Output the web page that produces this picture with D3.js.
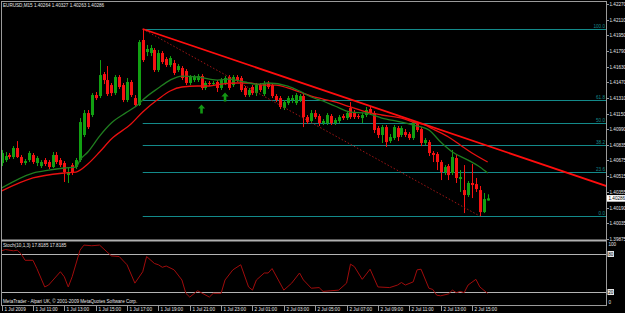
<!DOCTYPE html>
<html>
<head>
<meta charset="utf-8">
<script src="https://cdn.jsdelivr.net/npm/d3@7"></script>
<style>
html, body { margin: 0; padding: 0; background: #000; overflow: hidden; }
svg { display: block; }
text { font-family: "Liberation Sans", Arial, sans-serif; font-size: 4.6px; fill: #e6e6e6; }
</style>
</head>
<body>
<div id="chart"></div>
<script>
// EURUSD M15, 1 Jul 2009 09:00 -> 2 Jul 2009 16:00 (125 bars)
const barStart = new Date(2009, 6, 1, 9, 0);

const opens = [
  1.40647,1.40677,1.40729,1.40708,1.40800,1.40708,1.40647,1.40677,1.40729,1.40647,
  1.40616,1.40677,1.40657,1.40606,1.40729,1.40677,1.40647,1.40524,1.40626,1.40606,
  1.40677,1.40933,1.41157,1.41137,1.41341,1.41331,1.41555,1.41494,1.41443,1.41361,
  1.41525,1.41443,1.41290,1.41474,1.41310,1.41239,1.41903,1.41780,1.41770,1.41801,
  1.41596,1.41770,1.41709,1.41647,1.41668,1.41596,1.41617,1.41586,1.41464,1.41494,
  1.41494,1.41535,1.41413,1.41464,1.41453,1.41474,1.41413,1.41464,1.41525,1.41443,
  1.41525,1.41515,1.41413,1.41341,1.41423,1.41361,1.41443,1.41351,1.41464,1.41443,
  1.41331,1.41310,1.41208,1.41259,1.41290,1.41259,1.41290,1.41331,1.41116,1.41076,
  1.41157,1.41127,1.41055,1.41055,1.41127,1.41055,1.41076,1.41127,1.41106,1.41208,
  1.41168,1.41127,1.41106,1.41137,1.41198,1.41157,1.41004,1.40933,1.41014,1.40871,
  1.40902,1.41004,1.40933,1.40963,1.40943,1.40902,1.41045,1.40994,1.40851,1.40861,
  1.40749,1.40739,1.40657,1.40555,1.40616,1.40545,1.40698,1.40484,1.40371,1.40320,
  1.40443,1.40432,1.40371,1.40146,1.40264
];
const highs = [
  1.40780,1.40759,1.40749,1.40820,1.40871,1.40729,1.40688,1.40769,1.40749,1.40718,
  1.40677,1.40698,1.40677,1.40759,1.40759,1.40698,1.40667,1.40596,1.40647,1.40698,
  1.41106,1.41188,1.41188,1.41361,1.41372,1.41698,1.41576,1.41637,1.41464,1.41545,
  1.41545,1.41464,1.41515,1.41494,1.41341,1.41903,1.42015,1.41852,1.41852,1.41821,
  1.41801,1.41790,1.41729,1.41739,1.41698,1.41658,1.41637,1.41606,1.41545,1.41545,
  1.41555,1.41555,1.41484,1.41484,1.41484,1.41494,1.41515,1.41535,1.41545,1.41545,
  1.41545,1.41535,1.41433,1.41413,1.41443,1.41464,1.41464,1.41484,1.41484,1.41464,
  1.41351,1.41331,1.41290,1.41331,1.41341,1.41361,1.41351,1.41351,1.41137,1.41188,
  1.41188,1.41147,1.41096,1.41157,1.41147,1.41106,1.41137,1.41147,1.41178,1.41269,
  1.41188,1.41147,1.41157,1.41219,1.41229,1.41178,1.41025,1.41035,1.41035,1.40943,
  1.41035,1.41025,1.41025,1.40994,1.40963,1.41086,1.41065,1.41014,1.40902,1.40882,
  1.40769,1.40759,1.40677,1.40626,1.40637,1.40780,1.40729,1.40575,1.40626,1.40463,
  1.40637,1.40494,1.40412,1.40341,1.40327
];
const lows = [
  1.40616,1.40657,1.40688,1.40688,1.40698,1.40626,1.40626,1.40657,1.40637,1.40616,
  1.40596,1.40616,1.40586,1.40596,1.40637,1.40606,1.40453,1.40443,1.40524,1.40586,
  1.40657,1.40912,1.40994,1.41116,1.41290,1.41310,1.41453,1.41331,1.41331,1.41341,
  1.41402,1.41269,1.41269,1.41321,1.41219,1.41229,1.41678,1.41739,1.41739,1.41576,
  1.41576,1.41658,1.41627,1.41627,1.41545,1.41576,1.41494,1.41443,1.41443,1.41474,
  1.41474,1.41392,1.41392,1.41433,1.41433,1.41372,1.41392,1.41443,1.41392,1.41423,
  1.41474,1.41372,1.41321,1.41321,1.41341,1.41331,1.41372,1.41331,1.41402,1.41310,
  1.41269,1.41198,1.41188,1.41239,1.41259,1.41239,1.41269,1.41014,1.41045,1.41055,
  1.41096,1.41025,1.41035,1.41035,1.41035,1.41035,1.41055,1.41086,1.41086,1.41096,
  1.41096,1.41096,1.41055,1.41116,1.41137,1.40953,1.40902,1.40851,1.40810,1.40851,
  1.40882,1.40871,1.40912,1.40912,1.40882,1.40882,1.40963,1.40820,1.40831,1.40718,
  1.40657,1.40575,1.40473,1.40524,1.40473,1.40524,1.40443,1.40351,1.40136,1.40300,
  1.40289,1.40351,1.40105,1.40136,1.40263
];
const closes = [
  1.40749,1.40718,1.40708,1.40800,1.40708,1.40647,1.40667,1.40749,1.40657,1.40698,
  1.40657,1.40637,1.40606,1.40729,1.40657,1.40626,1.40555,1.40555,1.40545,1.40677,
  1.41065,1.41157,1.41014,1.41341,1.41310,1.41545,1.41494,1.41351,1.41361,1.41525,
  1.41423,1.41290,1.41474,1.41341,1.41239,1.41882,1.41698,1.41811,1.41821,1.41596,
  1.41770,1.41678,1.41647,1.41719,1.41566,1.41637,1.41515,1.41464,1.41525,1.41525,
  1.41535,1.41413,1.41464,1.41453,1.41464,1.41413,1.41494,1.41515,1.41413,1.41525,
  1.41494,1.41392,1.41341,1.41392,1.41361,1.41443,1.41392,1.41464,1.41423,1.41331,
  1.41290,1.41219,1.41269,1.41310,1.41310,1.41341,1.41331,1.41116,1.41065,1.41157,
  1.41116,1.41055,1.41076,1.41137,1.41055,1.41086,1.41116,1.41106,1.41157,1.41116,
  1.41116,1.41116,1.41137,1.41188,1.41157,1.40984,1.40933,1.41014,1.40861,1.40912,
  1.41014,1.40912,1.41004,1.40933,1.40902,1.41065,1.40984,1.40851,1.40882,1.40749,
  1.40729,1.40657,1.40555,1.40606,1.40524,1.40708,1.40494,1.40504,1.40320,1.40443,
  1.40422,1.40381,1.40146,1.40279,1.40286
];

// moving averages: [bar index, price]
const maFast = [
  [0,1.40392],[8,1.40545],[12,1.40575],[16,1.40596],[19,1.40606],[20,1.40677],[22,1.40759],
  [25,1.40922],[28,1.41055],[32,1.41167],[35,1.41249],[36,1.41290],[40,1.41413],[43,1.41494],
  [46,1.41535],[50,1.41525],[55,1.41494],[58,1.41504],[62,1.41474],[65,1.41453],[68,1.41464],
  [73,1.41433],[76,1.41382],[79,1.41321],[82,1.41280],[85,1.41229],[89,1.41167],[93,1.41157],
  [97,1.41106],[102,1.41065],[105,1.41035],[109,1.40984],[112,1.40861],[115,1.40759],
  [119,1.40677],[122,1.40606],[124,1.40545]
];
const maSlow = [
  [0,1.40361],[8,1.40494],[16,1.40545],[19,1.40555],[22,1.40637],[25,1.40759],[28,1.40892],
  [33,1.41045],[36,1.41168],[40,1.41300],[43,1.41382],[46,1.41423],[50,1.41433],[53,1.41433],
  [56,1.41453],[60,1.41464],[63,1.41464],[67,1.41443],[70,1.41443],[73,1.41413],[76,1.41372],
  [79,1.41331],[82,1.41300],[85,1.41270],[89,1.41219],[93,1.41168],[97,1.41137],[102,1.41106],
  [105,1.41065],[108,1.41035],[110,1.40994],[114,1.40913],[117,1.40831],[120,1.40749],[124,1.40657]
];

// Stochastic(10,1,3): [bar index, value]
const stoch = [
  [0,85],[1,87],[3,85],[4,86],[5,80],[6,70],[8,70],[9,57],[11,28],[12,31],[15,52],[16,44],
  [17,28],[18,44],[20,86],[21,94],[23,93],[25,94],[28,77],[30,76],[32,63],[34,34],[36,52],
  [37,76],[39,65],[40,63],[41,59],[42,61],[44,55],[46,39],[47,18],[48,12],[50,22],[53,12],
  [54,18],[56,18],[57,39],[59,55],[61,63],[63,28],[64,23],[65,39],[67,50],[68,50],[69,57],
  [72,23],[74,34],[76,50],[77,39],[79,26],[81,27],[82,21],[84,22],[86,23],[88,34],[89,64],
  [90,60],[92,40],[94,56],[96,28],[99,27],[101,31],[102,35],[103,31],[105,36],[106,55],
  [107,56],[109,26],[110,24],[111,15],[112,14],[114,17],[115,23],[116,19],[117,21],[118,19],
  [119,31],[121,40],[122,28],[124,17.8185]
];

// objects on the chart
const fibHigh = [36, 1.42015];
const fibLow = [122, 1.40105];
const fibLevels = [0, 23.6, 38.2, 50, 61.8, 100];
const trendPts = [[36, 1.42015], [143, 1.40565]];
const arrowPts = [[51, 1.41198], [57, 1.41321]];

// axis labels
const priceLabels = ["1.42270","1.42110","1.41950","1.41790","1.41630","1.41470","1.41310","1.41150",
  "1.40990","1.40835","1.40675","1.40515","1.40355","1.40190","1.40035","1.39875"];
const timeLabels = ["1 Jul 2009","1 Jul 11:00","1 Jul 13:00","1 Jul 15:00","1 Jul 17:00","1 Jul 19:00",
  "1 Jul 21:00","1 Jul 23:00","2 Jul 01:00","2 Jul 03:00","2 Jul 05:00","2 Jul 07:00","2 Jul 09:00",
  "2 Jul 11:00","2 Jul 13:00","2 Jul 15:00"];
const stochLabels = [100, 80, 20, 0];
const lastPrice = 1.40286;

const W = 625, H = 313;
const upColor = "#12a012", downColor = "#f51212";
const fibColor = "#138a8a", gridColor = "#9a9a9a";

function barTime(i) { return d3.timeMinute.offset(barStart, 15 * i); }

const x = d3.scaleTime().domain([barTime(0), barTime(120)]).range([1.6, 472]);
const y = d3.scaleLinear().domain([1.39861, 1.42301]).range([240, 1]);
const yS = d3.scaleLinear().domain([0, 100]).range([304.7, 241.3]);

const svg = d3.select("#chart").append("svg")
  .attr("width", W).attr("height", H)
  .style("background", "#000");

const defs = svg.append("defs");
defs.append("clipPath").attr("id", "mainClip").append("rect")
  .attr("x", 2).attr("y", 2).attr("width", 604.5).attr("height", 237);
defs.append("clipPath").attr("id", "stochClip").append("rect")
  .attr("x", 2).attr("y", 242).attr("width", 604.5).attr("height", 63);

const bars = opens.map((o, i) => ({ t: barTime(i), o: o, h: highs[i], l: lows[i], c: closes[i] }));
const bx = d => Math.round(x(d.t));

const main = svg.append("g").attr("clip-path", "url(#mainClip)");

// FIBONACCI LEVELS
const fx = x(barTime(fibHigh[0]));
fibLevels.forEach(lv => {
  const p = fibLow[1] + (fibHigh[1] - fibLow[1]) * lv / 100;
  const yy = Math.round(y(p)) + 0.5;
  main.append("line")
    .attr("x1", fx).attr("x2", 606).attr("y1", yy).attr("y2", yy)
    .attr("stroke", fibColor).attr("stroke-width", 1);
  main.append("text")
    .attr("x", 605).attr("y", yy - 1.2)
    .attr("text-anchor", "end")
    .style("fill", fibColor)
    .text(lv.toFixed(1));
});

// CANDLES
main.selectAll("line.wick").data(bars).join("line")
  .attr("class", "wick")
  .attr("x1", d => bx(d) + 0.5).attr("x2", d => bx(d) + 0.5)
  .attr("y1", d => y(d.h)).attr("y2", d => y(d.l))
  .attr("stroke", d => d.c >= d.o ? upColor : downColor)
  .attr("stroke-width", 1);
main.selectAll("rect.body").data(bars).join("rect")
  .attr("class", "body")
  .attr("x", d => bx(d) - 1).attr("width", 3)
  .attr("y", d => y(Math.max(d.o, d.c)))
  .attr("height", d => Math.max(1, Math.abs(y(d.o) - y(d.c))))
  .attr("fill", d => d.c >= d.o ? upColor : downColor);

// MOVING AVERAGES
const maLine = d3.line()
  .x(d => x(barTime(d[0])))
  .y(d => y(d[1]))
  .curve(d3.curveMonotoneX);
main.append("path").attr("d", maLine(maSlow))
  .attr("fill", "none").attr("stroke", "#e81010").attr("stroke-width", 1.3);
main.append("path").attr("d", maLine(maFast))
  .attr("fill", "none").attr("stroke", "#1f7d1f").attr("stroke-width", 1.3);

// DOTTED FIB CONNECTOR
main.append("line")
  .attr("x1", x(barTime(fibHigh[0]))).attr("y1", y(fibHigh[1]))
  .attr("x2", x(barTime(fibLow[0]))).attr("y2", y(fibLow[1]))
  .attr("stroke", "#a01515").attr("stroke-width", 1)
  .attr("stroke-dasharray", "1.5,2");

// TRENDLINE (ray)
const tp = trendPts.map(d => [x(barTime(d[0])), y(d[1])]);
const slope = (tp[1][1] - tp[0][1]) / (tp[1][0] - tp[0][0]);
main.append("line")
  .attr("x1", tp[0][0]).attr("y1", tp[0][1])
  .attr("x2", 610).attr("y2", tp[0][1] + slope * (610 - tp[0][0]))
  .attr("stroke", "#ff0d0d").attr("stroke-width", 1.8);

// ARROWS
const arrowPath = "M0,-4.5 L3.6,-0.6 L1.3,-0.6 L1.3,4.5 L-1.3,4.5 L-1.3,-0.6 L-3.6,-0.6 Z";
main.selectAll("path.arrow").data(arrowPts).join("path")
  .attr("class", "arrow")
  .attr("d", arrowPath)
  .attr("transform", d => `translate(${x(barTime(d[0]))},${y(d[1])})`)
  .attr("fill", "#139613");

// STOCHASTIC PANEL
const st = svg.append("g");
[80, 20].forEach(v => {
  st.append("line")
    .attr("x1", 1).attr("x2", 606).attr("y1", Math.round(yS(v)) + 0.5).attr("y2", Math.round(yS(v)) + 0.5)
    .attr("stroke", "#b4b4b4").attr("stroke-width", 1);
});
const stLine = d3.line()
  .x(d => x(barTime(d[0])))
  .y(d => yS(d[1]));
st.append("path").attr("d", stLine(stoch))
  .attr("clip-path", "url(#stochClip)")
  .attr("fill", "none").attr("stroke", "#a00c0c").attr("stroke-width", 1);

// FRAME
svg.append("line").attr("x1", 1.5).attr("x2", 1.5).attr("y1", 1).attr("y2", 306)
  .attr("stroke", gridColor);
svg.append("line").attr("x1", 1).attr("x2", 607).attr("y1", 1.5).attr("y2", 1.5)
  .attr("stroke", gridColor);
svg.append("rect").attr("x", 1).attr("y", 239.5).attr("width", 606).attr("height", 2)
  .attr("fill", "#b0b0b0");
svg.append("line").attr("x1", 1).attr("x2", 607).attr("y1", 305.5).attr("y2", 305.5)
  .attr("stroke", gridColor);
svg.append("line").attr("x1", 606.5).attr("x2", 606.5).attr("y1", 1).attr("y2", 306)
  .attr("stroke", gridColor);

// PRICE AXIS
const pa = svg.append("g");
priceLabels.forEach(s => {
  const yy = Math.round(y(+s)) + 0.5;
  pa.append("line").attr("x1", 606.5).attr("x2", 609).attr("y1", yy).attr("y2", yy)
    .attr("stroke", gridColor);
  pa.append("text").attr("x", 609.5).attr("y", yy).attr("dy", "0.36em").text(s);
});
// current price box
const ly = y(lastPrice);
pa.append("rect").attr("x", 607).attr("y", ly - 3.3).attr("width", 18).attr("height", 6.6)
  .attr("fill", "#ffffff");
pa.append("text").attr("x", 608.5).attr("y", ly).attr("dy", "0.36em")
  .style("fill", "#000").text(lastPrice.toFixed(5));

// STOCH AXIS
stochLabels.forEach(v => {
  let yy = yS(v);
  if (v === 100) yy += 3.5;
  if (v === 0) yy -= 2.6;
  if (v === 80 || v === 20) {
    pa.append("rect").attr("x", 607.5).attr("y", yy - 3).attr("width", 6.5).attr("height", 6)
      .attr("fill", "#e8e8e8");
    pa.append("text").attr("x", 608.2).attr("y", yy).attr("dy", "0.36em")
      .style("fill", "#000").text(v);
  } else {
    pa.append("text").attr("x", 608.5).attr("y", yy).attr("dy", "0.36em").text(v);
  }
});

// TIME AXIS
const tickTimes = d3.timeHour.range(barTime(0), barTime(125), 2);
const ta = svg.append("g");
tickTimes.forEach((t, i) => {
  if (i >= timeLabels.length) return;
  const xx = Math.round(x(t)) + 0.5;
  ta.append("line").attr("x1", xx).attr("x2", xx).attr("y1", 306).attr("y2", 311)
    .attr("stroke", gridColor);
  ta.append("text").attr("x", xx + 2).attr("y", 309.5).attr("dy", "0.36em").text(timeLabels[i]);
});

// TEXTS
svg.append("text").attr("x", 3).attr("y", 5.5).attr("dy", "0.36em")
  .text("EURUSD,M15  1.40264 1.40327 1.40263 1.40286");
svg.append("text").attr("x", 3).attr("y", 245).attr("dy", "0.36em")
  .text("Stoch(10,1,3) 17.8185 17.8185");
svg.append("text").attr("x", 3).attr("y", 301).attr("dy", "0.36em")
  .text("MetaTrader - Alpari UK, \u00a9 2001-2009 MetaQuotes Software Corp.");
</script>
</body>
</html>
